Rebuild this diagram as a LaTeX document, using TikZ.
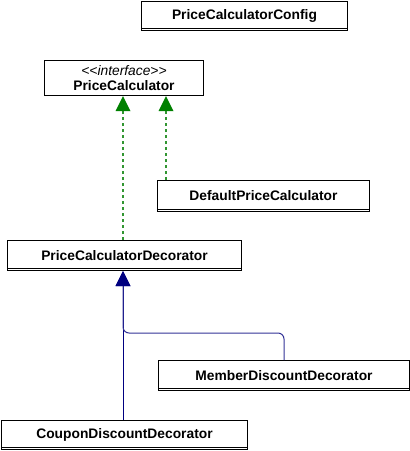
\documentclass[tikz,border=0pt]{standalone}
\usepackage{fontspec}
\setmainfont{Liberation Sans}
\usetikzlibrary{arrows.meta}
\definecolor{dgreen}{RGB}{0,128,0}
\definecolor{lgreen}{RGB}{50,150,50}
\definecolor{navy}{RGB}{0,0,128}
\definecolor{lnavy}{RGB}{50,50,150}
\begin{document}
\begin{tikzpicture}[x=1pt,y=-1pt,
  box/.style={draw=black,line width=1pt,fill=white,anchor=north west,inner sep=0pt,
    font=\fontsize{13.8}{15.5}\selectfont\bfseries},
  dep/.style={draw=lgreen,dash pattern=on 3pt off 3pt,line width=1.3pt,
    -{Triangle[width=15pt,length=15pt,fill=dgreen,color=dgreen,line width=0pt]}},
  inh/.style={draw=lnavy,line width=1pt,rounded corners=6pt,
    -{Triangle[width=15pt,length=15pt,fill=navy,color=navy,line width=0pt]}}]
\useasboundingbox (0,0) rectangle (410,451);
% classes
\node[box,minimum width=206pt,minimum height=29pt] (cfg) at (141,1) {PriceCalculatorConfig};
\draw[line width=1pt] (141,28) -- (347,28);
\node[box,minimum width=159pt,minimum height=35pt,align=center] (pc) at (44,60)
  {{\fontsize{13.8}{15.5}\selectfont\mdseries\itshape {<}{<}interface{>}{>}}\\PriceCalculator};
\node[box,minimum width=212pt,minimum height=31pt] (def) at (157,180) {DefaultPriceCalculator};
\draw[line width=1pt] (157,209) -- (369,209);
\node[box,minimum width=234pt,minimum height=30pt] (dec) at (7,240) {PriceCalculatorDecorator};
\draw[line width=1pt] (7,268) -- (241,268);
\node[box,minimum width=251pt,minimum height=30pt] (mem) at (158,360) {MemberDiscountDecorator};
\draw[line width=1pt] (158,388) -- (409,388);
\node[box,minimum width=246pt,minimum height=29pt] (cou) at (1,420) {CouponDiscountDecorator};
\draw[line width=1pt] (1,447) -- (247,447);
% helper coordinates
\coordinate (xl) at (123,0);
\coordinate (xr) at (166,0);
\coordinate (bend) at (123,333);
% connectors
\draw[dep] (dec.north -| xl) -- (pc.south -| xl);
\draw[dep] (def.north -| xr) -- (pc.south -| xr);
\draw[inh,draw=navy] (cou.north -| xl) -- (dec.south -| xl);
\draw[inh] (mem.north) |- (bend) -- (dec.south -| xl);
\end{tikzpicture}
\end{document}
